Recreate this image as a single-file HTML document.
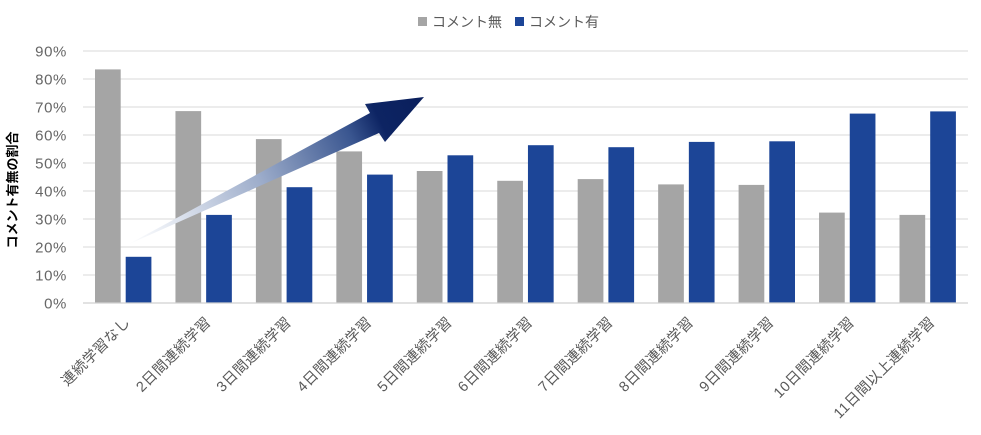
<!DOCTYPE html>
<html>
<head>
<meta charset="utf-8">
<style>
  html, body { margin: 0; padding: 0; background: #ffffff; }
  body { width: 981px; height: 435px; overflow: hidden; }
  svg { display: block; }
  .yl { font-family: "Liberation Sans", sans-serif; font-size: 15px; fill: #666666; letter-spacing: 0.6px; }
  .xl { font-family: "Liberation Sans", "Noto Sans CJK JP", sans-serif; font-size: 14.5px; fill: #595959; letter-spacing: 0.5px; }
  .lg { font-family: "Liberation Sans", "Noto Sans CJK JP", sans-serif; font-size: 14px; fill: #595959; }
  .yt { font-family: "Liberation Sans", "Noto Sans CJK JP", sans-serif; font-size: 13px; font-weight: bold; fill: #000000; }
</style>
</head>
<body>
<svg width="981" height="435" viewBox="0 0 981 435" xmlns="http://www.w3.org/2000/svg">
  <defs>
    <linearGradient id="ag" gradientUnits="userSpaceOnUse" x1="127" y1="245" x2="424" y2="97">
      <stop offset="0" stop-color="#ffffff" stop-opacity="0.9"/>
      <stop offset="0.15" stop-color="#e3e8f1"/>
      <stop offset="0.45" stop-color="#9cacca"/>
      <stop offset="0.75" stop-color="#3a5690"/>
      <stop offset="0.85" stop-color="#0d2463"/>
      <stop offset="1" stop-color="#0a1f5c"/>
    </linearGradient>
  </defs>

  <!-- Legend -->
  <rect x="418" y="17" width="9" height="9" fill="#a5a5a5"/>
  <text class="lg" x="432" y="27">コメント無</text>
  <rect x="515" y="17" width="9" height="9" fill="#1c4597"/>
  <text class="lg" x="529" y="27">コメント有</text>

  <!-- Gridlines -->
  <g stroke="#d9d9d9" stroke-width="1">
    <line x1="83" y1="51" x2="968" y2="51"/>
    <line x1="83" y1="79" x2="968" y2="79"/>
    <line x1="83" y1="107" x2="968" y2="107"/>
    <line x1="83" y1="135" x2="968" y2="135"/>
    <line x1="83" y1="163" x2="968" y2="163"/>
    <line x1="83" y1="191" x2="968" y2="191"/>
    <line x1="83" y1="219" x2="968" y2="219"/>
    <line x1="83" y1="247" x2="968" y2="247"/>
    <line x1="83" y1="275" x2="968" y2="275"/>
  </g>

  <!-- Y labels -->
  <g class="yl" text-anchor="end">
    <text x="67" y="56.5">90%</text>
    <text x="67" y="84.5">80%</text>
    <text x="67" y="112.5">70%</text>
    <text x="67" y="140.5">60%</text>
    <text x="67" y="168.5">50%</text>
    <text x="67" y="196.5">40%</text>
    <text x="67" y="224.5">30%</text>
    <text x="67" y="252.5">20%</text>
    <text x="67" y="280.5">10%</text>
    <text x="67" y="308.5">0%</text>
  </g>

  <!-- Y title -->
  <text class="yt" text-anchor="middle" transform="translate(17,190) rotate(-90)">コメント有無の割合</text>

  <!-- Bars gray -->
  <g fill="#a5a5a5">
    <rect x="95" y="69.4" width="25.7" height="233.3"/>
    <rect x="175.45" y="111.1" width="25.7" height="191.6"/>
    <rect x="255.9" y="139.1" width="25.7" height="163.6"/>
    <rect x="336.35" y="151.4" width="25.7" height="151.3"/>
    <rect x="416.8" y="171.0" width="25.7" height="131.7"/>
    <rect x="497.25" y="180.8" width="25.7" height="121.9"/>
    <rect x="577.7" y="179.1" width="25.7" height="123.6"/>
    <rect x="658.15" y="184.4" width="25.7" height="118.3"/>
    <rect x="738.6" y="184.9" width="25.7" height="117.8"/>
    <rect x="819.05" y="212.6" width="25.7" height="90.1"/>
    <rect x="899.5" y="214.9" width="25.7" height="87.8"/>
  </g>
  <!-- Bars blue -->
  <g fill="#1c4597">
    <rect x="125.7" y="256.8" width="25.7" height="45.9"/>
    <rect x="206.15" y="214.9" width="25.7" height="87.8"/>
    <rect x="286.6" y="187.2" width="25.7" height="115.5"/>
    <rect x="367.05" y="174.6" width="25.7" height="128.1"/>
    <rect x="447.5" y="155.3" width="25.7" height="147.4"/>
    <rect x="527.95" y="145.2" width="25.7" height="157.5"/>
    <rect x="608.4" y="147.2" width="25.7" height="155.5"/>
    <rect x="688.85" y="141.9" width="25.7" height="160.8"/>
    <rect x="769.3" y="141.3" width="25.7" height="161.4"/>
    <rect x="849.75" y="113.6" width="25.7" height="189.1"/>
    <rect x="930.2" y="111.4" width="25.7" height="191.3"/>
  </g>

  <!-- Axis line -->
  <line x1="83" y1="303" x2="968" y2="303" stroke="#d0d0d0" stroke-width="1.2"/>

  <!-- Arrow -->
  <polygon points="127,245 370,113 365,104 424,97 385,142 379,133" fill="url(#ag)"/>

  <!-- X labels -->
  <g class="xl" text-anchor="end">
    <text transform="translate(131,323) rotate(-45)">連続学習なし</text>
    <text transform="translate(211.7,323) rotate(-45)">2日間連続学習</text>
    <text transform="translate(292.1,323) rotate(-45)">3日間連続学習</text>
    <text transform="translate(372.6,323) rotate(-45)">4日間連続学習</text>
    <text transform="translate(453,323) rotate(-45)">5日間連続学習</text>
    <text transform="translate(533.5,323) rotate(-45)">6日間連続学習</text>
    <text transform="translate(613.9,323) rotate(-45)">7日間連続学習</text>
    <text transform="translate(694.4,323) rotate(-45)">8日間連続学習</text>
    <text transform="translate(774.8,323) rotate(-45)">9日間連続学習</text>
    <text transform="translate(855.3,323) rotate(-45)">10日間連続学習</text>
    <text transform="translate(935.7,323) rotate(-45)">11日間以上連続学習</text>
  </g>
</svg>
</body>
</html>
